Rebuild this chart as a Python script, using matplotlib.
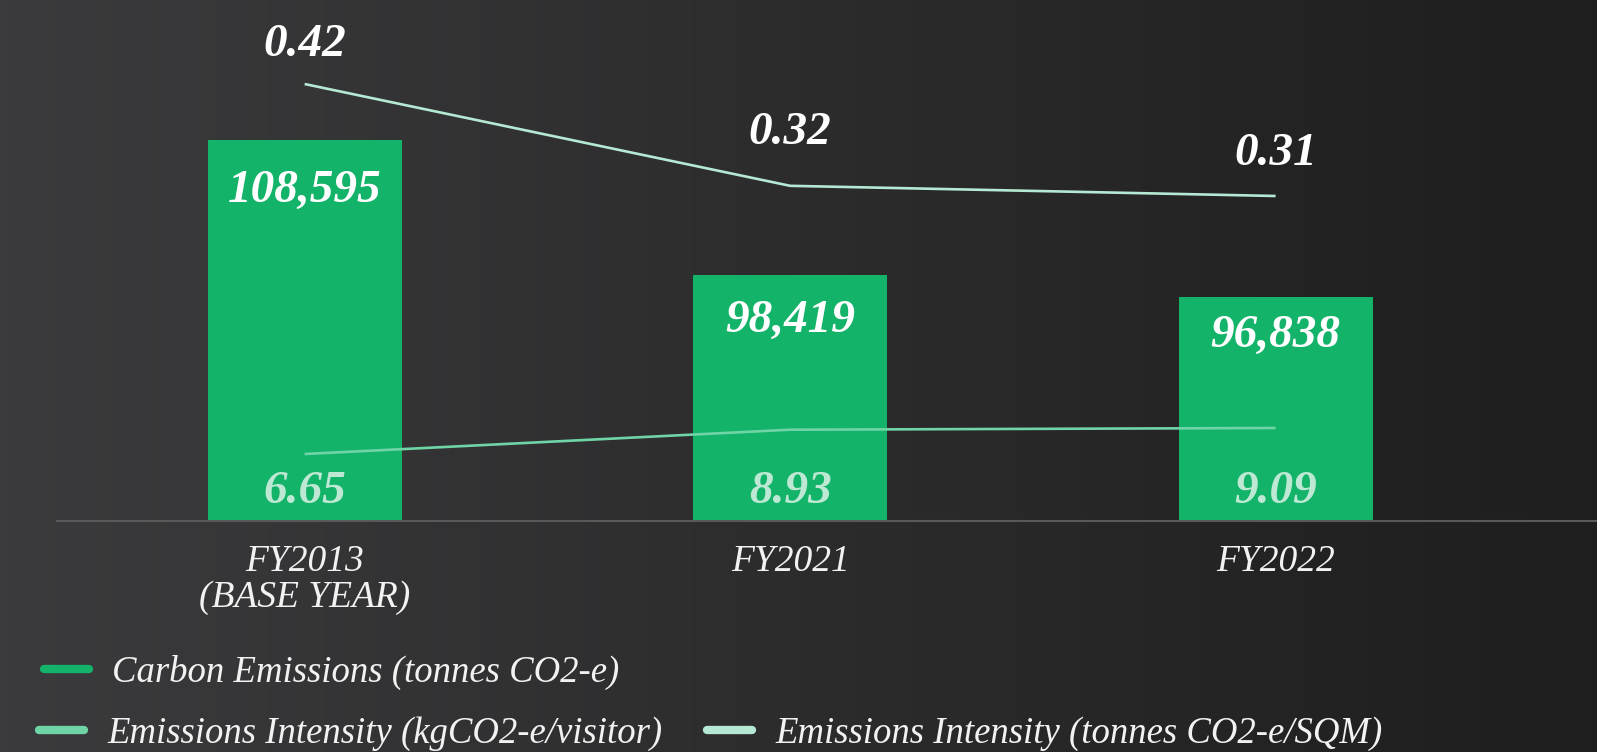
import numpy as np
import matplotlib
matplotlib.use("Agg")
import matplotlib.pyplot as plt
from matplotlib.colors import LinearSegmentedColormap
from matplotlib.lines import Line2D
from matplotlib.transforms import blended_transform_factory

# ---- data ----
categories = ["FY2013\n(BASE YEAR)", "FY2021", "FY2022"]
carbon_emissions = [108595, 98419, 96838]          # tonnes CO2-e
intensity_visitor = [6.65, 8.93, 9.09]             # kgCO2-e / visitor
intensity_sqm = [0.42, 0.32, 0.31]                 # tonnes CO2-e / SQM

series_names = [
    "Carbon Emissions (tonnes CO2-e)",
    "Emissions Intensity (kgCO2-e/visitor)",
    "Emissions Intensity (tonnes CO2-e/SQM)",
]

# ---- style ----
GREEN = "#13b369"
VISITOR_COL = "#6fd4a6"
SQM_COL = "#b5e9d3"
LOW_LABEL_COL = "#bde9d4"
FONT = ["Liberation Serif", "DejaVu Serif"]
bar_label_offsets = [-37, -33, -28]     # points below bar top
sqm_label_offsets = [28, 38, 30]        # points above line vertex

W, H = 1597, 752
fig = plt.figure(figsize=(W / 100, H / 100), dpi=100)

# dark horizontal gradient background
bg = fig.add_axes([0, 0, 1, 1], zorder=-10)
cmap = LinearSegmentedColormap.from_list("bg", ["#3b3b3d", "#2c2c2d", "#1e1e1e"])
grad = np.linspace(0, 1, 512)[None, :] * np.ones((8, 1))
bg.imshow(grad, aspect="auto", cmap=cmap, extent=[0, 1, 0, 1])
bg.axis("off")

# main axes
left_px, base_px = 57, 521
ax = fig.add_axes([left_px / W, (H - base_px) / H, 1 - left_px / W, base_px / H])
ax.patch.set_alpha(0)
x = np.arange(len(categories))

ax.bar(x, carbon_emissions, width=0.40, color=GREEN, zorder=2)
ax.set_ylim(80000, 119085)
ax.set_xlim(-0.51, 2.662)

for s in ["top", "right", "left"]:
    ax.spines[s].set_visible(False)
ax.spines["bottom"].set_color("#595959")
ax.spines["bottom"].set_linewidth(1.5)
ax.set_yticks([])
ax.set_xticks(x)
ax.set_xticklabels(categories, fontsize=27, color="#f2f2f2", style="italic",
                   family=FONT, linespacing=1.04)
ax.tick_params(axis="x", length=0, pad=17)

for xi, v, off in zip(x, carbon_emissions, bar_label_offsets):
    ax.annotate(f"{v:,}", (xi, v), xytext=(0, off), textcoords="offset points",
                ha="center", va="center", fontsize=34, fontweight="bold",
                style="italic", color="white", family=FONT)

# visitor intensity (own scale)
ax3 = ax.twinx()
ax3.set_ylim(0.366, 49.24)
ax3.plot(x, intensity_visitor, color=VISITOR_COL, lw=1.9, solid_capstyle="butt", zorder=3)
trans = blended_transform_factory(ax3.transData, ax3.transAxes)
for xi, v in zip(x, intensity_visitor):
    ax3.text(xi, 0.056, f"{v:.2f}", transform=trans, ha="center", va="center",
             fontsize=34, fontweight="bold", style="italic", color=LOW_LABEL_COL,
             family=FONT)

# per-SQM intensity (own scale)
ax2 = ax.twinx()
ax2.set_ylim(-0.0092, 0.5025)
ax2.plot(x, intensity_sqm, color=SQM_COL, lw=1.9, solid_capstyle="butt", zorder=3)
for xi, v, off in zip(x, intensity_sqm, sqm_label_offsets):
    ax2.annotate(f"{v:.2f}", (xi, v), xytext=(0, off), textcoords="offset points",
                 ha="center", va="center", fontsize=34, fontweight="bold",
                 style="italic", color="white", family=FONT)

for a in (ax2, ax3):
    a.set_yticks([])
    for s in a.spines.values():
        s.set_visible(False)

# legend, two rows
def handle(c):
    return Line2D([0], [0], color=c, lw=6, solid_capstyle="round")

leg_kw = dict(frameon=False, handlelength=1.22, handletextpad=0.64,
              columnspacing=1.2, borderaxespad=0, borderpad=0,
              prop={"family": FONT, "style": "italic", "size": 26.5},
              labelcolor="#f2f2f2")
leg1 = fig.legend([handle(GREEN)], [series_names[0]], loc="center left",
                  bbox_to_anchor=(44 / W, 1 - 672 / H), **leg_kw)
leg2 = fig.legend([handle(VISITOR_COL), handle(SQM_COL)], series_names[1:], ncol=2,
                  loc="center left", bbox_to_anchor=(39 / W, 1 - 734 / H), **leg_kw)

fig.savefig("out.png", dpi=100, facecolor="#2b2b2b")
